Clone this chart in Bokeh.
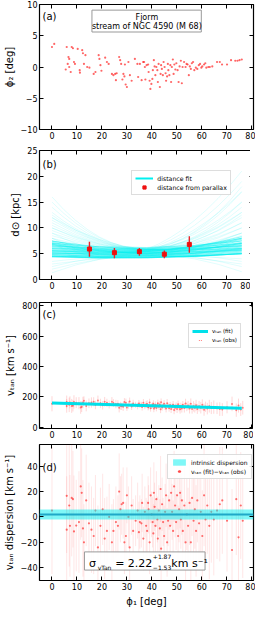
import numpy as np
from bokeh.plotting import figure
from bokeh.models import (Range1d, LinearAxis, FixedTicker, CustomJSTickFormatter,
                          Legend, LegendItem, Label)
from bokeh.layouts import column
from bokeh.embed import file_html
from bokeh.resources import INLINE

FONT = "DejaVu Sans"

# ---------------- data ----------------
x_ticks = [0, 10, 20, 30, 40, 50, 60, 70, 80]

# panel (a): stream stars
phi1_a = [0,0.9,5.9,7.9,8.4,10.3,12.1,12.4,13.4,6.6,
          6.9,8.8,9.2,6.3,5.5,6.9,7.5,11.1,11.2,12.8,
          14.1,15.0,16.7,17.4,18.7,19.0,19.4,19.8,21.3,22.0,
          22.7,24.0,24.6,25.3,25.6,25.9,26.9,27.3,27.7,28.2,
          28.6,29.0,29.2,29.5,30.0,30.6,31.2,31.9,33.2,34.2,
          34.5,35.2,35.9,36.5,36.9,37.2,37.4,37.9,38.5,38.7,
          39.1,39.4,39.8,40.2,40.4,40.8,41.1,41.4,41.8,42.2,
          42.4,42.7,43.2,43.5,43.7,44.0,44.4,44.7,45.1,45.5,
          45.7,46.1,46.4,46.6,47.0,47.4,47.7,48.0,48.4,48.7,
          49.0,49.4,49.8,50.3,50.7,51.1,51.6,52.0,52.3,52.9,
          53.5,53.9,54.3,54.8,55.2,55.6,56.0,56.5,57.0,57.6,
          58.2,58.8,59.3,59.8,60.2,60.9,61.4,61.8,62.6,63.2,
          64.2,66.1,67.2,68.1,70.1,71.7,73.4,74.3,75.1,76.0]
phi2_a = [3.2,3.7,3.2,3.2,3.0,2.9,2.7,2.2,1.9,1.6,
          1.3,0.8,0.5,0.5,-0.4,0.0,-0.8,-0.5,-0.9,0.5,
          0,-0.1,-1.1,-0.8,1.9,1.3,0.3,-0.6,1.5,0.8,
          0.5,-1.1,-1.3,-1.1,-2.1,-1.0,1.6,1.1,0.5,-2.0,
          -1.1,-1.5,0.4,-2.8,-3.2,0.8,-1.3,-2.2,1.3,0.5,
          -1.6,0.5,-2.1,0.8,0.8,0,-2.0,0.3,0.4,-0.8,
          -2.2,-3.5,-2.7,-1.9,-0.5,1.1,0.1,-1.3,0,-0.5,
          -2.4,0.5,-3.2,-1.1,0.3,-0.3,-1.3,0.8,0,-1.0,
          -2.2,-1.5,0.5,-0.5,-1.3,0.3,-2.4,0,1.2,-1.1,
          0.4,-0.4,0.6,-0.5,-2.4,0.1,1.0,-2.6,0,0.8,
          0,0.5,0.4,-1.3,0.1,-0.3,0.6,0.8,-0.5,-0.1,
          -0.3,0.3,0.5,-0.1,0.1,0.4,0.6,-0.1,0,0,
          0.1,0.8,0.8,0.4,0.4,1.1,1.0,1.0,1.1,1.2]

# panel (b): distance from parallax
par_phi1 = [15, 25, 35, 45, 55]
par_d = [5.9, 5.2, 5.4, 4.9, 6.8]
par_lo = [4.4, 4.1, 4.6, 4.1, 5.2]
par_hi = [7.3, 6.1, 6.1, 5.6, 8.4]

# panel (b): distance-fit samples (value at start, middle, end of the stream)
dfit_phi1_start = 0.0
dfit_phi1_end = 76.0
core_L = [4.4,4.5,4.6,4.8,5.0,5.2,5.4,5.6,5.8,6.0,6.2,6.4,6.6,6.8,7.0,7.2,7.5,5.0,5.5,6.0,6.5,7.0,5.2,6.8,4.8,5.6,7.4,4.5,4.4]
core_M = [4.2,4.3,4.3,4.4,4.5,4.6,4.7,4.8,4.9,5.0,5.1,5.2,5.3,5.4,5.5,5.6,5.7,5.2,5.5,5.8,6.0,6.2,5.0,5.0,4.6,5.4,5.8,4.3,4.2]
core_R = [5.0,5.0,5.1,5.3,5.5,5.7,5.9,6.1,6.3,6.5,6.8,7.0,7.2,7.5,7.8,8.0,8.3,5.6,6.0,6.5,7.0,7.5,7.0,5.8,6.0,8.0,6.6,5.0,5.0]
fan_L = [8.0,8.5,9.0,9.5,10.0,10.5,11.0,11.5,12.0,12.5,13.0,14.0,15.0,16.0,8.0,9.0,7.5,8.0,7.0,12.0,10.0,
         1.3,2.5,3.5,3.0,2.0]
fan_M = [5.6,5.7,5.8,5.5,5.8,5.6,5.9,5.7,6.0,5.8,6.0,5.9,6.1,6.0,5.5,5.7,5.6,5.8,5.9,5.8,5.5,
         4.8,4.9,4.7,4.6,4.8]
fan_R = [8.5,9.0,10.0,9.0,11.0,10.0,12.0,11.0,13.0,12.5,14.0,15.0,17.0,18.0,13.0,15.0,17.0,19.0,21.0,9.0,8.0,
         1.5,2.5,3.0,4.0,3.5]

# panel (c): tangential velocity fit and observations
vfit_phi1 = [0, 76]
vfit_v = [160, 126]
phi1_v = [0.0,5.9,5.9,6.9,7.2,7.9,8.4,8.8,9.7,10.8,
          11.5,11.9,12.4,12.8,13.7,14.8,15.8,16.7,17.4,18.4,
          19.4,20.3,21.1,22.0,22.9,24.0,24.6,25.6,26.4,26.9,
          27.4,27.9,28.5,29.0,29.6,30.0,30.6,31.1,31.9,32.5,
          33.5,34.3,34.8,35.2,35.8,36.1,36.6,37.2,37.7,38.1,
          38.5,38.7,39.1,39.5,39.9,40.3,40.6,40.8,41.1,41.4,
          41.8,42.2,42.4,42.8,43.2,43.5,43.7,44.1,44.5,44.9,
          45.3,45.7,46.1,46.5,46.9,47.3,47.7,48.1,48.5,48.9,
          49.3,49.7,50.1,50.5,50.9,51.3,51.6,52.0,52.4,53.0,
          53.5,54.0,54.5,55.1,55.6,56.1,56.7,57.2,57.7,58.2,
          58.9,59.6,60.2,60.9,61.5,62.2,63.0,63.8,64.8,66.1,
          67.2,68.2,70.1,72.1,73.8,74.7,75.6,76.4]
vtan_obs = [155,141,167,148,164,141,142,167,162,159,
            131,136,163,174,141,158,163,168,147,176,
            158,145,168,161,150,169,160,153,155,128,
            142,138,136,167,162,130,146,170,137,156,
            148,140,156,148,149,133,161,139,150,154,
            132,137,163,125,140,146,155,123,134,149,
            127,143,158,136,150,119,165,130,144,155,
            136,123,159,142,126,146,120,135,149,114,
            129,142,121,152,131,118,139,124,148,127,
            156,134,143,124,155,120,138,128,145,121,
            139,129,148,116,135,123,139,127,133,125,
            120,117,132,154,113,143,117,129]
vtan_err = [50,45,42,48,40,46,38,44,36,40,
            42,35,38,30,36,32,34,30,28,33,
            30,28,32,27,26,30,25,28,24,30,
            26,24,28,25,27,22,24,26,23,25,
            20,22,24,21,19,23,25,20,22,24,
            21,19,25,22,18,20,23,24,19,21,
            22,18,24,20,23,26,25,21,19,24,
            22,25,27,20,23,21,26,22,24,28,
            25,22,27,24,26,28,23,27,25,30,
            32,28,30,33,35,30,34,31,36,33,
            35,38,36,40,34,38,42,40,44,38,
            45,42,40,48,44,46,42,45]
# panel (d): residuals vTan(fit) - vTan(obs)
dv = [5,16.6,-10,9,-7,15,14,-11.4,-6.8,-4,
      24,19,-9,-20,13,-5,-10,-15,5,-24,
      -7,6,-17,-11,0,-20,-11,-4,-7,20,
      6,10,11,-20,-15,17,0,-24,9,-11,
      -3,5,-12,-4,-5,11,-17,4,-7,-11,
      11,6,-20,17,2,-4,-13,19,8,-7,
      14,-2,-17,5,-9,22,-25,10,-4,-15,
      4,17,-20,-3,13,-7,19,4,-11,24,
      9,-4,17,-15,6,19,-2,13,-11,9,
      -20,2,-7,11,-20,15,-3,6,-11,13,
      -5,4,-15,17,-2,9,-7,4,-2,5,
      10,13,-3,-26,14,-16,9,-3]
disp_mid = 2.07
disp_lo = -2.1
disp_hi = 6.2

CYAN = "#00f0f0"
RED = "#ff0000"
NAN = [float("nan")]


def make_fig(frame_h, top, bottom, yr, yticks, ylabel, overrides=None, xlabel=None):
    p = figure(frame_width=214, frame_height=frame_h,
               x_range=Range1d(-5, 80.7), y_range=Range1d(*yr),
               output_backend="svg", toolbar_location=None,
               min_border_left=34, min_border_right=2,
               min_border_top=top, min_border_bottom=bottom)
    p.grid.visible = False
    p.outline_line_color = "black"
    p.outline_line_width = 1.2
    p.xaxis.ticker = FixedTicker(ticks=x_ticks)
    p.yaxis.ticker = FixedTicker(ticks=yticks)
    if overrides:
        p.yaxis.major_label_overrides = overrides
    p.yaxis.axis_label = ylabel
    if xlabel:
        p.xaxis.axis_label = xlabel
    for ax in p.xaxis + p.yaxis:
        ax.axis_line_color = None
        ax.major_tick_in = 4
        ax.major_tick_out = 0
        ax.major_tick_line_color = "black"
        ax.minor_tick_line_color = None
        ax.major_label_text_font = FONT
        ax.major_label_text_font_size = "8px"
        ax.major_label_text_color = "black"
        ax.major_label_standoff = 2
        ax.axis_label_text_font = FONT
        ax.axis_label_text_font_size = "10px"
        ax.axis_label_text_font_style = "normal"
        ax.axis_label_text_color = "black"
        ax.axis_label_standoff = 3
    blank = CustomJSTickFormatter(code="return ''")
    r_ax = LinearAxis(ticker=FixedTicker(ticks=yticks), formatter=blank,
                      major_tick_in=4, major_tick_out=0, minor_tick_line_color=None,
                      axis_line_color=None, major_label_standoff=0,
                      major_label_text_font_size="0px")
    p.add_layout(r_ax, "right")
    t_ax = LinearAxis(ticker=FixedTicker(ticks=x_ticks), formatter=blank,
                      major_tick_in=4, major_tick_out=0, minor_tick_line_color=None,
                      axis_line_color=None, major_label_standoff=0,
                      major_label_text_font_size="0px")
    p.add_layout(t_ax, "above")
    return p


def style_legend(leg, fs):
    leg.label_text_font = FONT
    leg.label_text_font_size = fs
    leg.label_text_color = "black"
    leg.label_height = 8
    leg.glyph_height = 8
    leg.glyph_width = 16
    leg.label_standoff = 4
    leg.spacing = 1
    leg.padding = 3
    leg.margin = 0
    leg.border_line_color = "#bbbbbb"
    leg.border_line_width = 1
    leg.background_fill_alpha = 0.9


def panel_label(p, x, y, txt):
    p.add_layout(Label(x=x, y=y, text=txt, text_baseline="top", text_font=FONT,
                       text_font_size="10px", text_color="black"))


# ---------------- panel (a) ----------------
pa = make_fig(125, 4, 14, (-10, 10), [-10, -5, 0, 5, 10], "ϕ₂ [deg]",
              overrides={-10: "−10", -5: "−5"})
pa.scatter(phi1_a, phi2_a, size=2.2, color=RED, alpha=0.6, line_color=None)
pa.quad(left=[16.0], right=[59.8], bottom=[5.6], top=[9.1],
        fill_color="white", fill_alpha=1.0, line_color="#999999", line_width=1)
pa.add_layout(Label(x=38.0, y=8.7, text="Fjorm", text_align="center", text_baseline="top",
                    text_font=FONT, text_font_size="8px", text_color="black"))
pa.add_layout(Label(x=38.0, y=7.2, text="stream of NGC 4590 (M 68)", text_align="center",
                    text_baseline="top", text_font=FONT, text_font_size="8px", text_color="black"))
panel_label(pa, -3.8, 9.0, "(a)")

# ---------------- panel (b) ----------------
pb = make_fig(129, 7, 14, (0, 25), [0, 5, 10, 15, 20, 25], "d⊙ [kpc]")


def draw_curves(L, M, R, alpha):
    n = len(L)
    pb.quadratic(x0=[dfit_phi1_start] * n, y0=L, x1=[dfit_phi1_end] * n, y1=R,
                 cx=[(dfit_phi1_start + dfit_phi1_end) / 2] * n,
                 cy=[2 * m - (l + r) / 2 for l, m, r in zip(L, M, R)],
                 line_color=CYAN, line_alpha=alpha, line_width=1)


draw_curves(fan_L, fan_M, fan_R, 0.12)
draw_curves(core_L, core_M, core_R, 0.45)
pb.segment(x0=par_phi1, y0=par_lo, x1=par_phi1, y1=par_hi, line_color="#e8242a", line_width=1.4)
pb.scatter(par_phi1, par_d, marker="square", size=4, color="#ee1111")
leg_line = pb.line(x=NAN, y=NAN, line_color=CYAN, line_width=2)
leg_dash = pb.scatter(x=NAN, y=NAN, marker="dash", angle=np.pi / 2, size=8,
                      line_color="#e8242a", line_width=1.4)
leg_sq = pb.scatter(x=NAN, y=NAN, marker="square", size=4, color="#ee1111")
lb = Legend(items=[LegendItem(label="distance fit", renderers=[leg_line]),
                   LegendItem(label="distance from parallax", renderers=[leg_dash, leg_sq])],
            location=(98, 84))
style_legend(lb, "6.2px")
lb.glyph_width = 18
pb.add_layout(lb)
panel_label(pb, -3.8, 23.3, "(b)")

# ---------------- panel (c) ----------------
pc = make_fig(126, 9, 14, (-8, 822), [0, 200, 400, 600, 800], "vₜₐₙ [km s⁻¹]")
vo = np.array(vtan_obs, dtype=float)
ve = np.array(vtan_err, dtype=float)
pc.segment(x0=phi1_v, y0=vo - ve, x1=phi1_v, y1=vo + ve, line_color=RED,
           line_alpha=0.16, line_width=1)
pc.scatter(phi1_v, vtan_obs, size=2, color=RED, alpha=0.45, line_color=None)
pc.line(vfit_phi1, vfit_v, line_color="#00e0ea", line_width=3)
lc_line = pc.line(x=NAN, y=NAN, line_color="#00e0ea", line_width=3)
lc_dash = pc.scatter(x=NAN, y=NAN, marker="dash", angle=np.pi / 2, size=8,
                     line_color=RED, line_alpha=0.5, line_width=1, line_dash="1 1")
lcg = Legend(items=[LegendItem(label="vₜₐₙ (fit)", renderers=[lc_line]),
                    LegendItem(label="vₜₐₙ (obs)", renderers=[lc_dash])],
             location=(149, 80))
style_legend(lcg, "5.5px")
pc.add_layout(lcg)
panel_label(pc, -3.8, 776, "(c)")

# ---------------- panel (d) ----------------
pd_ = make_fig(136, 2, 24, (-50, 57), [-40, -20, 0, 20, 40], "vₜₐₙ dispersion [km s⁻¹]",
               overrides={-40: "−40", -20: "−20"}, xlabel="ϕ₁ [deg]")
dva = np.array(dv, dtype=float)
pd_.segment(x0=phi1_v, y0=dva - ve, x1=phi1_v, y1=dva + ve, line_color=RED,
            line_alpha=0.1, line_width=1)
pd_.scatter(phi1_v, dv, size=2.2, color=RED, alpha=0.55, line_color=None)
pd_.hstrip(y0=[disp_lo], y1=[disp_hi], fill_color=CYAN, fill_alpha=0.5, line_color=None)
pd_.hspan(y=[disp_mid], line_color="#1fa8c8", line_width=2.2)
pd_.quad(left=[13.0], right=[61.3], bottom=[-41.8], top=[-27.5],
         fill_color="white", fill_alpha=0.9, line_color="#999999", line_width=1)
ld_area = pd_.varea(x=NAN, y1=NAN, y2=NAN, fill_color=CYAN, fill_alpha=0.5)
ld_dash = pd_.scatter(x=NAN, y=NAN, marker="dash", angle=np.pi / 2, size=8,
                      line_color=RED, line_alpha=0.3, line_width=1)
ld_pt = pd_.scatter(x=NAN, y=NAN, size=2.4, color=RED, alpha=0.6, line_color=None)
ldg = Legend(items=[LegendItem(label="intrinsic dispersion", renderers=[ld_area]),
                    LegendItem(label="vₜₐₙ (fit)−vₜₐₙ (obs)", renderers=[ld_dash, ld_pt])],
             location=(128, 101))
style_legend(ldg, "6px")
pd_.add_layout(ldg)
panel_label(pd_, -3.8, 43.4, "(d)")

for x, y, txt, fs in [(14.8, -36.6, "σ", "11px"),
                      (18.3, -39.6, "vTan", "6px"),
                      (25.3, -36.6, "= 2.22", "11px"),
                      (40.4, -31.4, "+1.87", "6px"),
                      (40.4, -40.0, "−1.53", "6px"),
                      (47.8, -36.6, "km s⁻¹", "11px")]:
    pd_.add_layout(Label(x=x, y=y, text=txt, text_baseline="alphabetic", text_font=FONT,
                         text_font_size=fs, text_color="black"))

layout = column(pa, pb, pc, pd_, spacing=0)
open("out.html", "w").write(file_html(layout, INLINE))
